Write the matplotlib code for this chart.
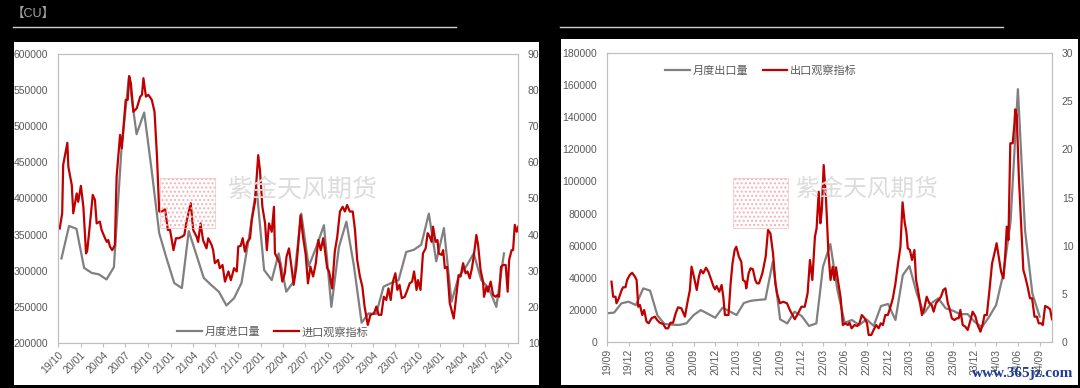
import pandas as pd
import matplotlib
matplotlib.use("Agg")
import matplotlib.pyplot as plt
import matplotlib.dates as mdates
from matplotlib.lines import Line2D
from matplotlib.patches import Rectangle
from matplotlib.ticker import FuncFormatter

plt.rcParams['font.family'] = ['Liberation Sans', 'Noto Sans CJK SC']

# --------------------------
# Import panel (left)
# --------------------------
imp_months = pd.date_range("2019-10-01", periods=60, freq="MS") + pd.Timedelta(days=14)
imp_volume = [
    317000, 362000, 358000, 304000, 297000, 295000, 288000, 305000, 470000, 568000,
    489000, 519000, 440000, 352000, 317000, 283000, 276000, 355000, 322000, 290000,
    280000, 271000, 252000, 262000, 283000, 347000, 416000, 301000, 287000, 324000,
    271000, 285000, 379000, 306000, 333000, 363000, 250000, 333000, 368000, 306000,
    228000, 241000, 240000, 278000, 283000, 287000, 326000, 329000, 336000, 379000,
    313000, 359000, 257000, 292000, 306000, 324000, 287000, 276000, 250000, 324000,
]

imp_obs_dates = [
    "2019-10-08", "2019-10-18", "2019-10-22", "2019-11-08", "2019-11-12", "2019-11-26",
    "2019-12-02", "2019-12-16", "2019-12-22", "2020-01-02", "2020-01-12", "2020-01-23",
    "2020-01-28", "2020-02-08", "2020-02-19", "2020-02-28", "2020-03-06", "2020-03-19",
    "2020-03-26", "2020-04-09", "2020-04-16", "2020-04-22", "2020-04-29", "2020-05-08",
    "2020-05-19", "2020-05-26", "2020-06-09", "2020-06-16", "2020-07-02", "2020-07-10",
    "2020-07-16", "2020-07-23", "2020-08-02", "2020-08-16", "2020-08-30", "2020-09-06",
    "2020-09-12", "2020-09-22", "2020-10-02", "2020-10-16", "2020-10-27", "2020-11-06",
    "2020-11-15", "2020-11-26", "2020-12-09", "2020-12-20", "2020-12-29", "2021-01-12",
    "2021-01-22", "2021-02-02", "2021-02-15", "2021-02-25", "2021-03-06", "2021-03-23",
    "2021-04-02", "2021-04-16", "2021-04-22", "2021-05-02", "2021-05-12", "2021-05-26",
    "2021-06-02", "2021-06-16", "2021-06-22", "2021-06-29", "2021-07-12", "2021-07-19",
    "2021-07-30", "2021-08-09", "2021-08-23", "2021-09-02", "2021-09-15", "2021-09-26",
    "2021-10-02", "2021-10-12", "2021-10-20", "2021-10-29", "2021-11-08", "2021-11-19",
    "2021-11-26", "2021-12-09", "2021-12-22", "2021-12-29", "2022-01-08", "2022-01-19",
    "2022-01-26", "2022-02-04", "2022-02-15", "2022-02-24", "2022-02-28", "2022-03-10",
    "2022-03-19", "2022-03-30", "2022-04-09", "2022-04-16", "2022-04-26", "2022-05-06",
    "2022-05-15", "2022-05-26", "2022-06-02", "2022-06-12", "2022-06-22", "2022-07-03",
    "2022-07-12", "2022-07-22", "2022-08-02", "2022-08-13", "2022-08-23", "2022-09-02",
    "2022-09-12", "2022-09-19", "2022-09-28", "2022-10-06", "2022-10-18", "2022-10-29",
    "2022-11-08", "2022-11-19", "2022-11-30", "2022-12-09", "2022-12-18", "2022-12-29",
    "2023-01-10", "2023-01-19", "2023-01-28", "2023-02-08", "2023-02-18", "2023-02-27",
    "2023-03-12", "2023-03-23", "2023-04-06", "2023-04-16", "2023-04-25", "2023-05-06",
    "2023-05-16", "2023-05-26", "2023-06-04", "2023-06-13", "2023-06-22", "2023-07-02",
    "2023-07-10", "2023-07-19", "2023-07-28", "2023-08-09", "2023-08-20", "2023-08-29",
    "2023-09-08", "2023-09-16", "2023-09-26", "2023-10-02", "2023-10-12", "2023-10-22",
    "2023-11-02", "2023-11-10", "2023-11-19", "2023-11-26", "2023-12-02", "2023-12-12",
    "2023-12-20", "2023-12-25", "2024-01-06", "2024-01-12", "2024-01-19", "2024-01-28",
    "2024-02-08", "2024-02-17", "2024-02-24", "2024-03-06", "2024-03-15", "2024-03-23",
    "2024-04-02", "2024-04-12", "2024-04-20", "2024-04-29", "2024-05-08", "2024-05-16",
    "2024-05-26", "2024-06-02", "2024-06-12", "2024-06-22", "2024-06-26", "2024-07-06",
    "2024-07-12", "2024-07-23", "2024-08-02", "2024-08-12", "2024-08-20", "2024-08-26",
    "2024-09-03", "2024-09-12", "2024-09-22", "2024-09-30", "2024-10-06", "2024-10-16",
    "2024-10-22", "2024-10-29", "2024-11-06", "2024-11-12",
]
imp_obs = [
    41.7, 45.9, 59.3, 65.4, 58.8, 53.7, 45.9, 51.4, 49.1, 53.5, 47.7, 34.8,
    35.7, 43.1, 51.0, 49.6, 43.1, 43.6, 41.3, 39.0, 38.0, 38.5, 36.7, 35.7,
    37.1, 56.0, 67.6, 63.9, 77.3, 77.3, 83.9, 81.9, 74.0, 75.0, 78.2, 78.7,
    83.3, 78.2, 78.7, 77.3, 74.0, 61.6, 46.4, 46.4, 47.0, 41.3, 41.3, 35.7,
    39.0, 39.0, 39.4, 39.9, 43.6, 48.7, 41.3, 39.4, 38.0, 43.1, 38.5, 36.2,
    39.0, 37.1, 35.7, 32.1, 33.0, 30.7, 31.6, 27.0, 29.8, 27.4, 30.7, 29.8,
    36.7, 36.9, 39.0, 35.3, 38.0, 39.0, 44.1, 49.1, 62.0, 57.9, 47.7, 43.1,
    35.7, 43.1, 40.8, 47.7, 34.8, 33.5, 32.1, 27.0, 29.3, 33.9, 36.2, 31.1,
    26.1, 31.1, 36.7, 45.4, 39.4, 34.4, 26.5, 31.1, 28.4, 32.1, 38.5, 35.7,
    39.0, 35.7, 30.7, 29.8, 25.1, 35.3, 39.4, 46.4, 47.7, 46.4, 48.2, 46.4,
    46.4, 41.3, 33.0, 28.4, 25.6, 20.1, 15.0, 17.8, 18.2, 20.1, 17.8, 17.8,
    22.8, 21.9, 25.1, 21.9, 27.0, 29.3, 24.7, 26.1, 22.4, 22.8, 24.7, 26.5,
    27.0, 29.8, 24.7, 27.4, 24.7, 34.8, 36.2, 40.4, 39.4, 38.0, 42.2, 38.0,
    38.5, 34.8, 34.4, 35.7, 30.7, 31.1, 21.0, 18.7, 16.8, 23.3, 28.8, 28.4,
    32.1, 29.3, 29.8, 27.9, 30.7, 34.4, 39.9, 37.1, 30.2, 27.0, 22.8, 25.6,
    24.2, 27.0, 23.3, 22.8, 23.3, 22.8, 31.1, 31.6, 31.6, 24.2, 33.0, 35.7,
    35.7, 42.7, 40.8, 42.2,
]

# --------------------------
# Export panel (right)
# --------------------------
exp_months = pd.date_range("2019-09-01", periods=61, freq="MS")
exp_volume = [
    17900, 18300, 24100, 25100, 23000, 33400, 32000, 16500, 11200, 10800,
    10600, 11600, 16800, 19900, 17500, 15100, 21400, 19000, 16800, 24300,
    25700, 26200, 26600, 50000, 14100, 11600, 18900, 16200, 10000, 11600,
    46900, 61000, 32400, 12000, 13700, 10600, 14100, 10000, 22400, 23700,
    13700, 41700, 47300, 30300, 17900, 24100, 27200, 21000, 19500, 17300,
    17400, 12600, 9200, 15800, 23000, 42800, 74900, 157500, 69800, 30300,
    15800,
]

exp_obs_dates = [
    "2019-09-20", "2019-09-27", "2019-10-07", "2019-10-11", "2019-10-21", "2019-11-02",
    "2019-11-08", "2019-11-18", "2019-11-25", "2019-12-06", "2019-12-16", "2019-12-28",
    "2020-01-04", "2020-01-11", "2020-01-18", "2020-01-28", "2020-02-05", "2020-02-15",
    "2020-02-24", "2020-03-07", "2020-03-21", "2020-03-31", "2020-04-11", "2020-04-25",
    "2020-05-06", "2020-05-16", "2020-05-26", "2020-06-06", "2020-06-17", "2020-06-27",
    "2020-07-11", "2020-07-26", "2020-08-05", "2020-08-16", "2020-08-23", "2020-09-02",
    "2020-09-14", "2020-09-23", "2020-10-01", "2020-10-11", "2020-10-23", "2020-11-02",
    "2020-11-12", "2020-11-23", "2020-11-30", "2020-12-07", "2020-12-18", "2020-12-28",
    "2021-01-04", "2021-01-11", "2021-01-26", "2021-02-04", "2021-02-12", "2021-02-21",
    "2021-02-28", "2021-03-11", "2021-03-21", "2021-03-28", "2021-04-07", "2021-04-11",
    "2021-04-21", "2021-04-29", "2021-05-09", "2021-05-19", "2021-05-26", "2021-06-04",
    "2021-06-18", "2021-07-02", "2021-07-12", "2021-07-22", "2021-08-02", "2021-08-12",
    "2021-08-19", "2021-08-31", "2021-09-14", "2021-09-30", "2021-10-12", "2021-11-02",
    "2021-11-16", "2021-11-30", "2021-12-14", "2021-12-26", "2022-01-05", "2022-01-15",
    "2022-01-26", "2022-02-02", "2022-02-11", "2022-02-18", "2022-02-24", "2022-03-04",
    "2022-03-14", "2022-03-24", "2022-04-02", "2022-04-11", "2022-04-18", "2022-04-25",
    "2022-05-05", "2022-05-14", "2022-05-24", "2022-06-03", "2022-06-14", "2022-06-21",
    "2022-06-30", "2022-07-12", "2022-07-24", "2022-08-02", "2022-08-12", "2022-08-24",
    "2022-09-03", "2022-09-10", "2022-09-21", "2022-10-02", "2022-10-12", "2022-10-22",
    "2022-10-31", "2022-11-09", "2022-11-19", "2022-11-30", "2022-12-11", "2022-12-21",
    "2023-01-01", "2023-01-12", "2023-01-22", "2023-01-31", "2023-02-09", "2023-02-16",
    "2023-02-22", "2023-03-03", "2023-03-12", "2023-03-22", "2023-03-29", "2023-04-05",
    "2023-04-15", "2023-04-23", "2023-05-03", "2023-05-13", "2023-05-24", "2023-06-03",
    "2023-06-11", "2023-06-21", "2023-07-02", "2023-07-12", "2023-07-22", "2023-07-31",
    "2023-08-10", "2023-08-17", "2023-08-27", "2023-09-07", "2023-09-17", "2023-09-25",
    "2023-10-02", "2023-10-12", "2023-10-23", "2023-11-02", "2023-11-12", "2023-11-23",
    "2023-12-05", "2023-12-14", "2023-12-26", "2024-01-05", "2024-01-12", "2024-01-22",
    "2024-02-02", "2024-02-13", "2024-02-23", "2024-03-03", "2024-03-12", "2024-03-22",
    "2024-04-01", "2024-04-09", "2024-04-15", "2024-04-22", "2024-04-30", "2024-05-10",
    "2024-05-17", "2024-05-21", "2024-05-27", "2024-06-05", "2024-06-15", "2024-06-24",
    "2024-07-02", "2024-07-12", "2024-07-22", "2024-07-31", "2024-08-10", "2024-08-20",
    "2024-08-28", "2024-09-07", "2024-09-14", "2024-09-24", "2024-10-05", "2024-10-15",
    "2024-10-23",
]
exp_obs = [
    6.26, 4.70, 4.70, 4.02, 4.54, 5.40, 5.68, 5.68, 6.44, 6.95, 7.19, 6.78,
    6.44, 3.66, 3.84, 2.80, 3.32, 2.11, 1.94, 2.46, 2.63, 2.28, 2.00, 1.87,
    1.42, 1.42, 2.00, 2.00, 2.98, 3.60, 3.50, 2.63, 4.02, 5.40, 7.82, 6.78,
    5.40, 6.78, 7.47, 7.13, 7.71, 7.30, 6.61, 5.81, 5.47, 5.81, 5.22, 5.92,
    4.70, 2.80, 2.80, 6.09, 8.17, 9.55, 9.89, 8.85, 8.33, 6.44, 6.26, 5.57,
    7.13, 7.65, 7.55, 6.44, 6.09, 6.09, 7.13, 8.85, 11.63, 11.28, 9.21, 6.09,
    5.06, 4.02, 4.18, 4.02, 3.32, 2.36, 2.98, 3.66, 3.66, 5.06, 8.51, 6.44,
    10.93, 11.80, 15.60, 12.32, 13.70, 18.37, 14.74, 9.21, 6.44, 7.82, 6.44, 7.75,
    6.09, 4.70, 1.76, 1.94, 1.76, 2.00, 1.42, 1.76, 1.66, 1.94, 2.80, 2.46,
    1.94, 0.73, 0.73, 1.32, 1.76, 1.42, 1.94, 1.76, 2.80, 2.80, 3.66, 4.54,
    6.09, 8.17, 9.89, 14.50, 12.40, 11.45, 9.73, 9.55, 8.51, 9.55, 6.44, 5.57,
    4.02, 2.80, 3.50, 4.70, 4.02, 3.84, 3.15, 4.02, 4.36, 4.70, 5.40, 5.57,
    4.02, 3.50, 2.46, 2.28, 2.46, 2.46, 3.32, 1.76, 1.59, 1.25, 2.11, 3.15,
    2.63, 1.76, 1.07, 1.94, 2.80, 2.80, 5.40, 8.17, 9.21, 10.25, 8.85, 7.30,
    6.61, 9.21, 11.97, 10.59, 20.63, 20.63, 22.53, 24.15, 23.56, 17.16, 11.97, 7.47,
    6.78, 5.74, 4.54, 4.54, 2.63, 2.63, 1.94, 1.94, 1.76, 3.74, 3.60, 3.39,
    2.36,
]

GRAY = "#808080"
RED = "#c00000"
TXT = "#595959"
FRAME = "#bfbfbf"
W, H = 1080, 388


def fx(px):
    return px / W


def fy(py):
    return 1 - py / H


def draw_panel(fig, rect, months, volume, obs_dates, obs, ylim_l, step_l, ylim_r, step_r,
               xlim, first_tick, rot, labels, legend_xy):
    ax = fig.add_axes(rect)
    ax.set_facecolor("white")
    ax2 = ax.twinx()
    l1, = ax.plot(months, volume, color=GRAY, lw=1.6, label=labels[0])
    l2, = ax2.plot(pd.to_datetime(obs_dates), obs, color=RED, lw=1.6, label=labels[1])

    ax.set_ylim(*ylim_l)
    ax.set_yticks(range(ylim_l[0], ylim_l[1] + 1, step_l))
    ax2.set_ylim(*ylim_r)
    ax2.set_yticks(range(ylim_r[0], ylim_r[1] + 1, step_r))
    for a in (ax, ax2):
        a.yaxis.set_major_formatter(FuncFormatter(lambda v, p: f"{int(v)}"))
        for s in a.spines.values():
            s.set_color(FRAME)
            s.set_linewidth(0.8)
    ax.tick_params(axis="y", length=0, labelsize=7.5, labelcolor=TXT, pad=7)
    ax2.tick_params(axis="y", length=0, labelsize=7.5, labelcolor=TXT, pad=7)

    ax.set_xlim(pd.Timestamp(xlim[0]), pd.Timestamp(xlim[1]))
    ticks = pd.date_range(first_tick, xlim[1], freq="3MS")
    ax.set_xticks(ticks)
    ax.xaxis.set_major_formatter(mdates.DateFormatter("%y/%m"))
    ax.tick_params(axis="x", length=3, color=FRAME, labelsize=7.5, labelcolor=TXT, pad=2)
    if rot == 45:
        plt.setp(ax.get_xticklabels(), rotation=45, ha="right", rotation_mode="anchor")
    else:
        plt.setp(ax.get_xticklabels(), rotation=90, ha="center", va="top")

    leg = ax.legend([l1, l2], labels, loc="center", bbox_to_anchor=legend_xy, ncol=2,
                    frameon=False, fontsize=8, handlelength=2.2, handletextpad=0.25,
                    columnspacing=1.3)
    for t in leg.get_texts():
        t.set_color(TXT)
    return ax, ax2


fig = plt.figure(figsize=(10.8, 3.88), dpi=100)
fig.patch.set_facecolor("black")

# white panels (behind the axes)
fig.patches.append(Rectangle((fx(14), fy(385)), fx(525), 343 / H, transform=fig.transFigure,
                             facecolor="white", edgecolor="none", zorder=-2))
fig.patches.append(Rectangle((fx(561), fy(385)), fx(517), 346 / H, transform=fig.transFigure,
                             facecolor="white", edgecolor="none", zorder=-2))

# header
fig.text(fx(12), fy(14), "【CU】", fontsize=9, color="#a6a6a6", va="center", ha="left")
fig.add_artist(Line2D([fx(13), fx(456)], [fy(27), fy(27)], color="#d0d0d0", lw=1))
fig.add_artist(Line2D([fx(560), fx(1003)], [fy(27), fy(27)], color="#d0d0d0", lw=1))

draw_panel(fig, [fx(58), fy(343), fx(460), 289 / H], imp_months, imp_volume,
           imp_obs_dates, imp_obs, (200000, 600000), 50000, (10, 90), 10,
           ("2019-10-01", "2024-11-11"), "2019-10-01", 45,
           ["月度进口量", "进口观察指标"], (0.467, 0.038))

draw_panel(fig, [fx(607), fy(342), fx(445), 289 / H], exp_months, exp_volume,
           exp_obs_dates, exp_obs, (0, 180000), 20000, (0, 30), 5,
           ("2019-09-01", "2024-10-23"), "2019-09-01", 90,
           ["月度出口量", "出口观察指标"], (0.346, 0.939))

# watermarks
for x0, tx, fs in [(160, 228, 18), (733, 796, 17)]:
    fig.patches.append(Rectangle((fx(x0), fy(228)), fx(55), 50 / H, transform=fig.transFigure,
                                 facecolor="none", edgecolor="#f3b3b3", lw=0.4,
                                 hatch="....", zorder=5))
    fig.text(fx(tx), fy(190), "紫金天风期货", fontsize=fs, color="#dcdcdc",
             va="center", ha="left", zorder=5)

fig.text(fx(1073), fy(374), "www.365jz.com", fontsize=11, color="#1f3c96",
         family="Liberation Serif", weight="bold", ha="right", va="center", zorder=6)

fig.savefig("out.png", dpi=100, facecolor=fig.get_facecolor())
